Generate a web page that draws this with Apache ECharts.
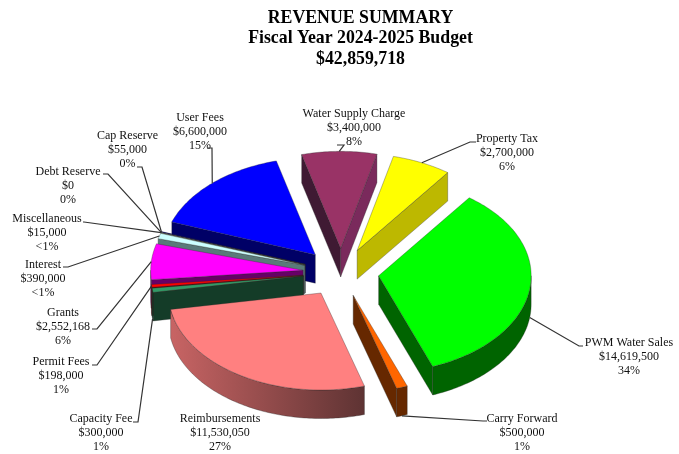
<!DOCTYPE html>
<html>
<head>
<meta charset="utf-8">
<style>html,body{margin:0;padding:0;background:#fff}#c{width:679px;height:454px}</style>
<script src="https://cdn.jsdelivr.net/npm/echarts@6/dist/echarts.min.js"></script>
</head>
<body>
<div id="c"></div>
<script>
// ---- data (clockwise, starting at Water Supply Charge) ----
const categories = ['Water Supply Charge','Property Tax','PWM Water Sales','Carry Forward','Reimbursements','Capacity Fee','Permit Fees','Grants','Interest','Miscellaneous','Debt Reserve','Cap Reserve','User Fees'];
const amounts = [3400000,2700000,14619500,500000,11530050,300000,198000,2552168,390000,15000,0,55000,6600000];
const percentLabels = ['8%','6%','34%','1%','27%','1%','1%','6%','<1%','<1%','0%','0%','15%'];
const titleLines = ['REVENUE SUMMARY','Fiscal Year 2024-2025 Budget','$42,859,718'];

// ---- styles ----
const topColors = ['#993366','#ffff00','#00ff00','#ff6600','#ff8080','#339966','#ff0000','#ff00ff','#ccffff','#ffffcc','#c0c0c0','#000080','#0000ff'];
const wallColors = ['#7a2a5c','#bdb800','#006400','#662800','#c86464','#143c28','#660000','#660066','#5a7a7a','#666650','#606060','#000040','#000066'];
const startWallColors = ['#3f1a33','#bdb800','#006400','#662800','#5e3333','#143c28','#660000','#660066','#5a7a7a','#666650','#606060','#000040','#000066'];
const wallShadeEnd = {4:'#5e3333'};

// ---- pie geometry ----
const CX = 341, CY = 272.5, RX = 152.5, TILT = 0.636, DEPTH = 28.5, EXPLODE = 38, START_DEG = -14.8;
const total = amounts.reduce((a,b)=>a+b,0);
const rad = d => d*Math.PI/180;
const sectors = (function(){
  let a = START_DEG;
  return amounts.map(v => {
    const s = a, e = a + v/total*360; a = e;
    const m = (s+e)/2;
    return {s, e, m, ax: CX + EXPLODE*Math.sin(rad(m)), ay: CY - EXPLODE*TILT*Math.cos(rad(m))};
  });
})();
const rimPoint = (sec,deg,dy) => [sec.ax + RX*Math.sin(rad(deg)), sec.ay - RX*TILT*Math.cos(rad(deg)) + (dy||0)];
function arcPoints(sec,a,b,dy){
  const n = Math.max(1,Math.ceil(Math.abs(b-a))), out=[];
  for(let i=0;i<=n;i++) out.push(rimPoint(sec,a+(b-a)*i/n,dy));
  return out;
}
const drawOrder = amounts.map((v,i)=>i).filter(i=>amounts[i]>0).sort((p,q)=>sectors[p].ay-sectors[q].ay);
const edgeLine = {stroke:'rgba(40,40,40,0.55)',lineWidth:0.6};

function renderSlice(params, api){
  const i = api.value(0), sec = sectors[i], kids = [];
  const poly = (pts,fill) => kids.push({type:'polygon',shape:{points:pts},style:Object.assign({fill},edgeLine)});
  const apex = [sec.ax,sec.ay], apexB = [sec.ax,sec.ay+DEPTH];
  // radial walls that face the viewer
  if(Math.cos(rad(sec.s-90))<0){ const p=rimPoint(sec,sec.s); poly([apex,p,[p[0],p[1]+DEPTH],apexB],startWallColors[i]); }
  if(Math.cos(rad(sec.e+90))<0){ const p=rimPoint(sec,sec.e); poly([apex,p,[p[0],p[1]+DEPTH],apexB],wallColors[i]); }
  // outer rim wall
  const a = Math.max(sec.s,90), b = Math.min(sec.e,270);
  if(b>a){
    const fill = wallShadeEnd[i] ? new echarts.graphic.LinearGradient(0,0,1,0,[{offset:0,color:wallColors[i]},{offset:1,color:wallShadeEnd[i]}]) : wallColors[i];
    poly(arcPoints(sec,a,b,0).concat(arcPoints(sec,b,a,DEPTH)),fill);
  }
  // top face
  poly([apex].concat(arcPoints(sec,sec.s,sec.e,0)),topColors[i]);
  return {type:'group',children:kids};
}

// ---- label layout ----
const labelCenterX = [354,507,629,522,220,101,61,63,43,47,68,127.5,200];
const labelTopY    = [113,138,342,418,418,418,361,312,264,218,171,135,117];
const leaderElbows = [[337,145,344],[476,142,470],[583,346,579],[487,421,483],null,[133,422,138],[92,365,97],[92,329,97],[63,267,68],[83,222,84],[103,174,108],[137,167,142],[208,148,212]];
const anchorOnWall = [false,false,true,true,false,true,false,false,false,false,false,false,false];

function renderLabel(params, api){
  const i = api.value(0), sec = sectors[i], kids = [];
  const el = leaderElbows[i];
  if(el){
    const end = rimPoint(sec,sec.m,anchorOnWall[i]?DEPTH:0);
    kids.push({type:'polyline',shape:{points:[[el[0],el[1]],[el[2],el[1]],end]},style:{fill:'none',stroke:'#333',lineWidth:1.2}});
  }
  const money = '$'+amounts[i].toLocaleString('en-US');
  kids.push({type:'text',x:labelCenterX[i],y:labelTopY[i]-6,style:{
    text:[categories[i],money,percentLabels[i]].join('\n'),
    textAlign:'center',textVerticalAlign:'top',fill:'#111',
    font:'12px "Liberation Serif"',lineHeight:13.8
  }});
  return {type:'group',children:kids};
}

const chart = echarts.init(document.getElementById('c'),null,{renderer:'canvas'});
chart.setOption({
  animation:false,
  backgroundColor:'#fff',
  title:{
    text:titleLines.join('\n'),left:355.5,top:3,textAlign:'center',
    textStyle:{fontFamily:'"Liberation Serif"',fontWeight:'bold',fontSize:17.8,lineHeight:20.5,color:'#000'}
  },
  series:[
    {type:'custom',coordinateSystem:'none',silent:true,renderItem:renderSlice,z:2,data:drawOrder.map(i=>({name:categories[i],value:[i,amounts[i]]}))},
    {type:'custom',coordinateSystem:'none',silent:true,renderItem:renderLabel,z:3,data:amounts.map((v,i)=>({name:categories[i],value:[i,v]}))}
  ]
});
</script>
</body>
</html>
